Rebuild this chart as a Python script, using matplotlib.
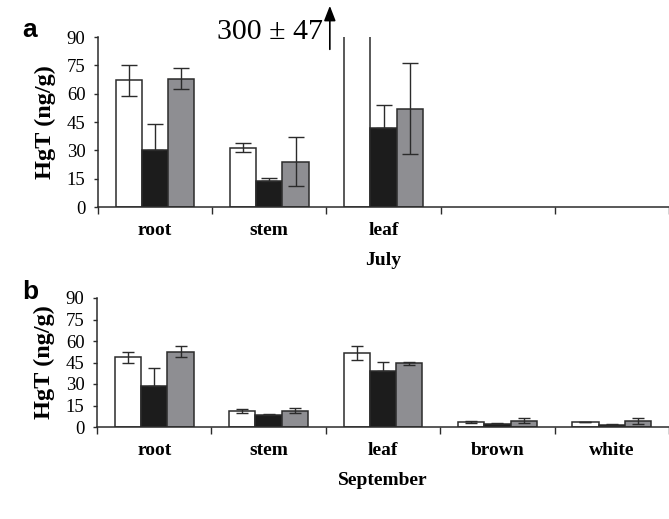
import matplotlib
matplotlib.use('Agg')
import matplotlib.pyplot as plt
import numpy as np

# panel a - July
july_parts = ['root', 'stem', 'leaf', '', '']
july_open = [67, 31.5, 300]
july_open_err = [8, 2.3, 47]
july_black = [30, 14, 42]
july_black_err = [14, 1.2, 12]
july_grey = [68, 24, 52]
july_grey_err = [5.5, 13, 24]

# panel b - September
sept_parts = ['root', 'stem', 'leaf', 'brown', 'white']
sept_open = [48.5, 11, 51.5, 3.5, 3.5]
sept_open_err = [3.5, 1.5, 5, 0.5, 0.3]
sept_black = [28.5, 8.5, 39, 2, 1.5]
sept_black_err = [12.5, 0.5, 6.5, 0.5, 0.3]
sept_grey = [52.5, 11.5, 44.5, 4.5, 4]
sept_grey_err = [4, 2, 1, 1.5, 2]

yticks = [0, 15, 30, 45, 60, 75, 90]

serif = 'Liberation Serif'
edge = '#2b2b2b'
fills = ['white', '#1c1c1c', '#8e8e92']

fig = plt.figure(figsize=(6.69, 5.19), dpi=100)
ax_a = fig.add_axes([98/669, 1-207/519, 1-98/669, 170/519])
ax_b = fig.add_axes([97/669, 1-427/519, 1-97/669, 129/519])


def draw(ax, labels, series, errs, xlabel, capsize):
    w = 0.23
    for k, (vals, err) in enumerate(zip(series, errs)):
        x = np.arange(len(vals)) + (k - 1) * w
        ax.bar(x, vals, width=w, color=fills[k], edgecolor=edge, linewidth=1.1, zorder=2)
        if k == 1:
            # lower half hidden in the black bar
            yerr = [np.zeros(len(err)), err]
        else:
            yerr = err
        ax.errorbar(x, vals, yerr=yerr, fmt='none', ecolor=edge, elinewidth=1.0,
                    capsize=capsize, capthick=1.0, zorder=3)
    ax.set_xlim(-0.5, len(labels) - 0.5)
    ax.set_ylim(0, 90)
    ax.set_yticks(yticks)
    ax.set_yticklabels([str(t) for t in yticks], fontfamily=serif, fontsize=13.5)
    ax.set_xticks(np.arange(len(labels) + 1) - 0.5)
    ax.set_xticklabels([])
    ax.set_xticks(np.arange(len(labels)), minor=True)
    ax.set_xticklabels(labels, minor=True, fontfamily=serif, fontsize=14, fontweight='bold')
    ax.tick_params(axis='x', which='major', direction='out', length=5, width=1, color=edge)
    ax.tick_params(axis='x', which='minor', length=0, pad=10.5)
    ax.tick_params(axis='y', direction='out', length=3, width=1, color=edge, pad=6)
    for s in ['top', 'right']:
        ax.spines[s].set_visible(False)
    for s in ['left', 'bottom']:
        ax.spines[s].set_color(edge)
        ax.spines[s].set_linewidth(1.1)
    ax.set_ylabel('HgT (ng/g)', fontfamily=serif, fontsize=17.5, fontweight='bold', labelpad=8)
    ax.set_xlabel(xlabel, fontfamily=serif, fontsize=14, fontweight='bold', labelpad=10)


draw(ax_a, july_parts, [july_open, july_black, july_grey],
     [july_open_err, july_black_err, july_grey_err], 'July', 5.8)
draw(ax_b, sept_parts, [sept_open, sept_black, sept_grey],
     [sept_open_err, sept_black_err, sept_grey_err], 'September', 4.3)

# off-scale leaf value in July
ax_a.annotate('', xy=(1.53, 108), xytext=(1.53, 82),
              arrowprops=dict(arrowstyle='-|>,head_length=0.9,head_width=0.35',
                              color='black', lw=1.2),
              annotation_clip=False)
ax_a.text(1.47, 92.5, '300 \u00b1 47', ha='right', va='center',
          fontfamily=serif, fontsize=21.5, clip_on=False)

fig.text(30/669, 1-30/519, 'a', fontfamily='Liberation Sans', fontweight='bold',
         fontsize=19, ha='center', va='center')
fig.text(30/669, 1-292/519, 'b', fontfamily='Liberation Sans', fontweight='bold',
         fontsize=19, ha='center', va='center')

fig.savefig('out.png', dpi=100)
